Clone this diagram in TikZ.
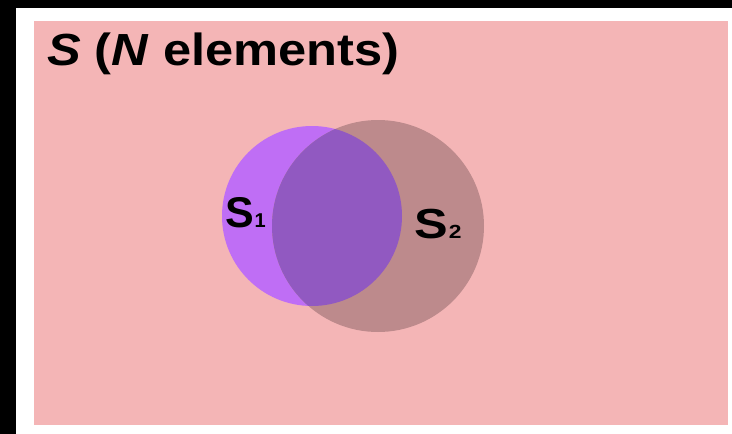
\documentclass[tikz,border=0pt]{standalone}
\usepackage{fontspec}
\setmainfont{Liberation Sans}
\usetikzlibrary{positioning}

\definecolor{bgpink}{HTML}{F4B5B6}
\definecolor{setpurple}{HTML}{BF6EF5}
\definecolor{setbrown}{HTML}{BD8A8C}
\definecolor{overlap}{HTML}{9159C1}

\begin{document}
\begin{tikzpicture}[x=1pt, y=-1pt,
	every node/.style={inner sep=0pt, outer sep=0pt},
	title/.style={anchor=base west, font=\fontsize{45}{54}\selectfont\bfseries, xscale=1.125, transform shape},
	setlabel/.style={anchor=base west, font=\bfseries, transform shape},
	setone/.style={circle, fill=setpurple, minimum size=180pt},
	settwo/.style={circle, fill=setbrown, minimum size=212pt}
	]
	
	% Frame and background
	\useasboundingbox (0,0) rectangle (732,434);
	\fill[black] (0,0) rectangle (732,434);
	\fill[white] (16,8) rectangle (732,434);
	\fill[bgpink] (34,21) rectangle (728,425);
	
	% Title
	\node[title] (T) at (47,65) {\textit{S} (\textit{N} elements)};
	
	% Sets
	\node[setone] (S1) at (312,216) {};
	\node[settwo] (S2) at (378,226) {};
	\begin{scope}
		\clip (S1.center) circle (90);
		\fill[overlap] (S2.center) circle (106);
	\end{scope}
	
	% Labels
	\node[setlabel, xscale=1.0] (L1) at (225,227) {\fontsize{43}{46}\selectfont S\kern1pt\fontsize{20}{22}\selectfont 1};
	\node[setlabel, xscale=1.2] (L2) at (414,238) {\fontsize{42}{46}\selectfont S\kern1pt\fontsize{19}{22}\selectfont 2};
	
\end{tikzpicture}
\end{document}
